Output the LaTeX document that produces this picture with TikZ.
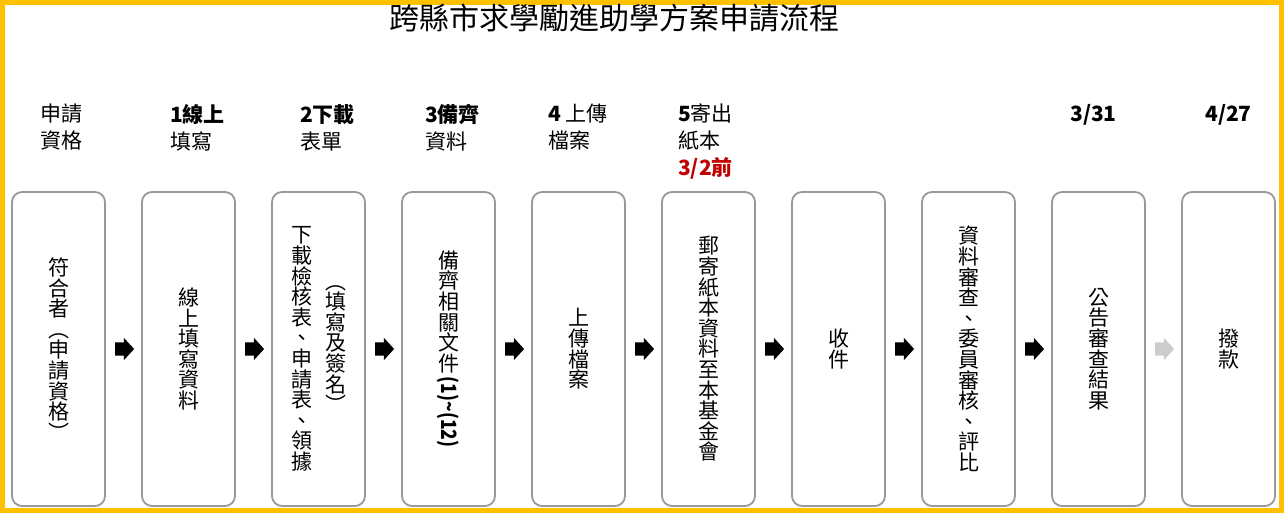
\documentclass[tikz,border=0pt]{standalone}
\usepackage{fontspec}
\setmainfont{Noto Sans CJK TC}
\usepackage{graphicx}
\usetikzlibrary{positioning, shapes.arrows}

\definecolor{framegold}{HTML}{FFC000}
\definecolor{boxgray}{HTML}{999999}
\definecolor{datered}{HTML}{C00000}

% one column of upright characters, fixed pitch
\newcommand{\vcol}[1]{$\vcenter{\baselineskip=20.6pt\lineskiplimit=-100pt\lineskip=0pt
  \let\\\cr\halign{\hfil##\hfil\cr#1\crcr}}$}
\protected\def\vlatin#1{\raise15pt\hbox{\rotatebox{-90}{\scalebox{.83}[1]{\bfseries #1}}}}

\begin{document}
\begin{tikzpicture}[x=1pt,y=1pt,
stepbox/.style={draw=boxgray,line width=1.8pt,rounded corners=10pt,fill=white,
  minimum width=93pt,minimum height=314pt,inner sep=0pt,
  font=\fontsize{21}{20.6}\selectfont},
steplabel/.style={anchor=north west,align=left,inner sep=0pt,
  font=\fontsize{21}{27}\selectfont},
blockarrow/.style={single arrow,fill=black,draw=none,inner xsep=0pt,inner ysep=6.5pt,
  text height=0pt,text depth=0pt,minimum height=19pt,
  single arrow head extend=4.5pt,single arrow tip angle=95}
]
\useasboundingbox (0,0) rectangle (1284,-513);
\draw[framegold,line width=5pt] (2.5,-2.5) rectangle (1281.5,-510.5);

\node[font=\fontsize{30}{30}\selectfont] (title) at (614,-18) {跨縣市求學勵進助學方案申請流程};

% steps
\node[stepbox] (b1) at (58.5,-349) {\vcol{符\\合\\者\\︵\\申\\請\\資\\格\\︶}};
\node[stepbox,right=35.2pt of b1] (b2) {\vcol{線\\上\\填\\寫\\資\\料}};
\node[stepbox,right=35.2pt of b2] (b3) {\vcol{下\\載\\檢\\核\\表\\、\\申\\請\\表\\、\\領\\據}\hspace{13pt}\vcol{︵\\填\\寫\\及\\簽\\名\\︶}};
\node[stepbox,right=35.2pt of b3] (b4) {\vcol{備\\齊\\相\\關\\文\\件\\\vlatin{(1)\textasciitilde(12)}}};
\node[stepbox,right=35.2pt of b4] (b5) {\vcol{上\\傳\\檔\\案}};
\node[stepbox,right=35.2pt of b5] (b6) {\vcol{郵\\寄\\紙\\本\\資\\料\\至\\本\\基\\金\\會}};
\node[stepbox,right=35.2pt of b6] (b7) {\vcol{收\\件}};
\node[stepbox,right=35.2pt of b7] (b8) {\vcol{資\\料\\審\\查\\、\\委\\員\\審\\核\\、\\評\\比}};
\node[stepbox,right=35.2pt of b8] (b9) {\vcol{公\\告\\審\\查\\結\\果}};
\node[stepbox,right=35.2pt of b9] (b10) {\vcol{撥\\款}};

% arrows between steps
\node[blockarrow,right=9pt of b1] (a1) {};
\node[blockarrow,right=9pt of b2] (a2) {};
\node[blockarrow,right=9pt of b3] (a3) {};
\node[blockarrow,right=9pt of b4] (a4) {};
\node[blockarrow,right=9pt of b5] (a5) {};
\node[blockarrow,right=9pt of b6] (a6) {};
\node[blockarrow,right=9pt of b7] (a7) {};
\node[blockarrow,right=9pt of b8] (a8) {};
\node[blockarrow,fill=black!20,right=9pt of b9] (a9) {};

% headings
\node[steplabel] (l1) at (40,-104) {申請\\資格};
\node[steplabel] (l2) at (170,-104) {\bfseries 1線上\\填寫};
\node[steplabel] (l3) at (300,-104) {\bfseries 2下載\\表單};
\node[steplabel] (l4) at (425,-104) {\bfseries 3備齊\\資料};
\node[steplabel] (l5) at (548,-104) {\textbf{4} 上傳\\檔案};
\node[steplabel] (l6) at (678,-104) {\textbf{5}寄出\\紙本\\\textcolor{datered}{\bfseries 3/2前}};
\node[steplabel] (l7) at (1070,-104) {\bfseries 3/31};
\node[steplabel] (l8) at (1205,-104) {\bfseries 4/27};
\end{tikzpicture}
\end{document}
